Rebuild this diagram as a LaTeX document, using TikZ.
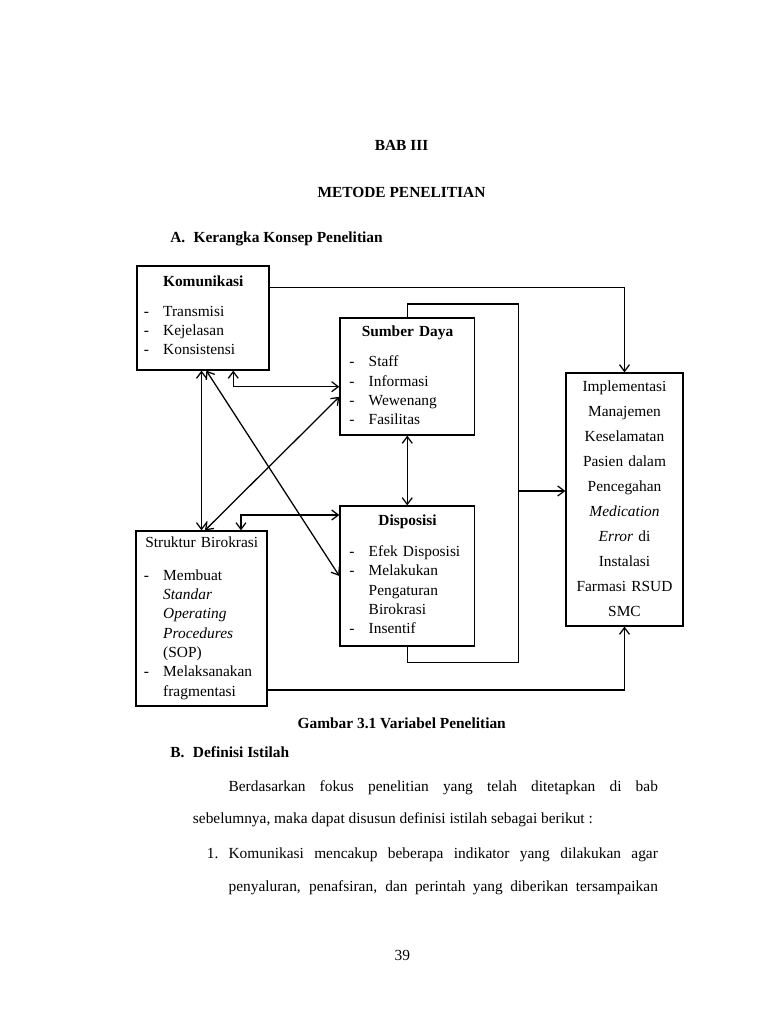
\documentclass[tikz,border=0pt]{standalone}
\usepackage{fontspec}
\setmainfont{Liberation Serif}
\usetikzlibrary{arrows.meta,positioning}
\newcommand{\boxfont}{\fontsize{11.55pt}{14.5pt}\selectfont}
\newcommand{\pagefont}{\fontsize{11.55pt}{14pt}\selectfont}
\newcommand{\dashitem}[1]{\makebox[14.6pt][l]{-}#1}
\newcommand{\contitem}[1]{\hspace*{14.6pt}#1}

\begin{document}
\begin{tikzpicture}[
		x=0.75pt, y=-0.75pt,
		box/.style={
			draw,
			rectangle,
			inner sep=0pt,
			line width=0.95pt
		},
		boxtext/.style={
			anchor=base west,
			inner sep=0pt,
			align=left,
			font=\boxfont
		},
		pagetext/.style={
			inner sep=0pt,
			font=\pagefont
		},
		arr/.style={
			-{Straight Barb[length=5pt,width=7.5pt]},
			line width=0.95pt
		},
		dbl/.style={
			{Straight Barb[length=5pt,width=7.5pt]}-{Straight Barb[length=5pt,width=7.5pt]},
			line width=0.95pt
		}
	]
	
	\fill[white] (0,0) rectangle (768,1024);
	\useasboundingbox (0,0) rectangle (768,1024);
	
	% page heading
	\node[pagetext, anchor=base] (bab) at (401.5,150) {\textbf{BAB III}};
	\node[pagetext, anchor=base] (judul) at (401.5,197.7) {\textbf{METODE PENELITIAN}};
	\node[pagetext, anchor=base west] (subA) at (170,242.5) {\makebox[17.5pt][l]{\textbf{A.}}\textbf{Kerangka Konsep Penelitian}};
	
	% boxes
	\node[box, minimum width=99pt, minimum height=78pt] (kom) at (203,318) {};
	\node[box, minimum width=100.9pt, minimum height=87.75pt] (sd) at (407.25,376.5) {};
	\node[box, minimum width=100.9pt, minimum height=105pt] (disp) at (407.25,576) {};
	\node[box, minimum width=98.25pt, minimum height=131.25pt] (sb) at (201.5,618.5) {};
	\node[box, minimum width=87.75pt, minimum height=189.75pt] (impl) at (624.5,499.5) {};
	
	\node[boxtext, text width=89.25pt] (kom-txt) at (143.5,286) {
		\makebox[89.25pt]{\textbf{Komunikasi}}\\[8pt]
		\dashitem{Transmisi}\\
		\dashitem{Kejelasan}\\
		\dashitem{Konsistensi}
	};
	
	\node[boxtext, text width=87.4pt] (sd-txt) at (349,336) {
		\makebox[87.4pt]{\textbf{Sumber Daya}}\\[8.5pt]
		\dashitem{Staff}\\
		\dashitem{Informasi}\\
		\dashitem{Wewenang}\\
		\dashitem{Fasilitas}
	};
	
	\node[boxtext, text width=87.4pt] (disp-txt) at (349,525) {
		\makebox[87.4pt]{\textbf{Disposisi}}\\[9pt]
		\dashitem{Efek Disposisi}\\
		\dashitem{Melakukan}\\
		\contitem{Pengaturan}\\
		\contitem{Birokrasi}\\
		\dashitem{Insentif}
	};
	
	\node[boxtext, text width=87pt] (sb-txt) at (143.5,547.6) {
		\makebox[87pt]{Struktur Birokrasi}\\[10pt]
		\dashitem{Membuat}\\
		\contitem{\textit{Standar}}\\
		\contitem{\textit{Operating}}\\
		\contitem{\textit{Procedures}}\\
		\contitem{(SOP)}\\
		\dashitem{Melaksanakan}\\
		\contitem{fragmentasi}
	};
	
	\node[boxtext, anchor=base, align=center, text width=84pt, font=\fontsize{11.55pt}{18.75pt}\selectfont] (impl-txt) at (624.5,391) {
		Implementasi\\
		Manajemen\\
		Keselamatan\\
		Pasien dalam\\
		Pencegahan\\
		\textit{Medication}\\
		\textit{Error} di\\
		Instalasi\\
		Farmasi RSUD\\
		SMC
	};
	
	% connectors
	\coordinate (fbtop) at (518.3,304);
	\coordinate (fbbot) at (518.3,662.7);
	\coordinate (fbout) at (518.3,491);
	
	\draw[arr] ([yshift=-16.5pt]kom.north east) -| (impl.north);
	\draw[arr] ([yshift=-53.6pt]sb.east) -| (impl.south);
	\draw[line width=0.95pt] (sd.north) |- (fbtop) -- (fbbot) -| (disp.south);
	\draw[arr] (fbout) -- (fbout -| impl.west);
	\draw[dbl] (sb.north |- kom.south) -- (sb.north);
	\draw[dbl] ([xshift=22.7pt]kom.south) |- ([yshift=-7.65pt]sd.west);
	\draw[dbl] ([xshift=29.6pt]sb.north) |- ([yshift=45.75pt]disp.west);
	\draw[dbl] ([xshift=2.5pt]kom.south) -- (disp.west);
	\draw[dbl] ([xshift=2.6pt]sb.north) -- ([yshift=-15.2pt]sd.west);
	\draw[dbl] (sd.south) -- (disp.north);
	
	% caption and text below
	\node[pagetext, anchor=base] (cap) at (401.7,728.3) {\textbf{Gambar 3.1 Variabel Penelitian}};
	\node[pagetext, anchor=base west] (subB) at (170,757.3) {\makebox[17pt][l]{\textbf{B.}}\textbf{Definisi Istilah}};
	\node[pagetext, anchor=base west] (par1) at (228.3,791) {\makebox[322pt][s]{Berdasarkan fokus penelitian yang telah ditetapkan di bab}};
	\node[pagetext, anchor=base west] (par2) at (192.7,823.3) {sebelumnya, maka dapat disusun definisi istilah sebagai berikut :};
	\node[pagetext, anchor=base west] (num1) at (206.7,858.3) {1.};
	\node[pagetext, anchor=base west] (item1a) at (228.3,858.3) {\makebox[322pt][s]{Komunikasi mencakup beberapa indikator yang dilakukan agar}};
	\node[pagetext, anchor=base west] (item1b) at (228.3,891.5) {\makebox[322pt][s]{penyaluran, penafsiran, dan perintah yang diberikan tersampaikan}};
	\node[pagetext, anchor=base] (hal) at (402.3,960) {39};
	
\end{tikzpicture}
\end{document}
